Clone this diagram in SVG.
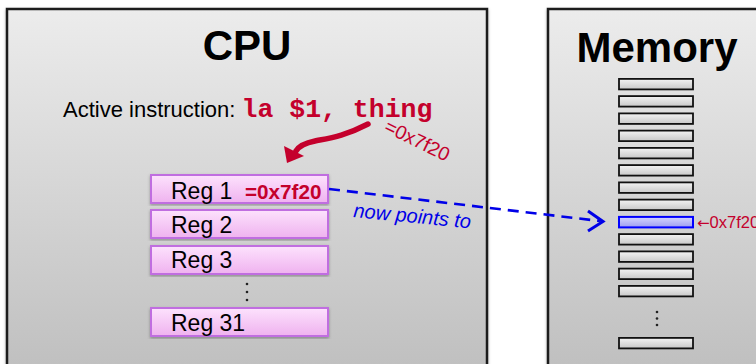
<svg xmlns="http://www.w3.org/2000/svg" width="756" height="364" viewBox="0 0 756 364">
<defs>
<linearGradient id="boxg" x1="0" y1="0" x2="0" y2="1">
<stop offset="0" stop-color="#ececec"/><stop offset="1" stop-color="#bdbdbd"/>
</linearGradient>
<linearGradient id="regg" x1="0" y1="0" x2="0" y2="1">
<stop offset="0" stop-color="#fde2fd"/><stop offset="1" stop-color="#efb2ef"/>
</linearGradient>
<linearGradient id="cellg" x1="0" y1="0" x2="0" y2="1">
<stop offset="0" stop-color="#f4f4f4"/><stop offset="1" stop-color="#c8c8c8"/>
</linearGradient>
<linearGradient id="hig" x1="0" y1="0" x2="0" y2="1">
<stop offset="0" stop-color="#d6d6ff"/><stop offset="1" stop-color="#9c9cf0"/>
</linearGradient>
<filter id="sh" x="-10%" y="-10%" width="120%" height="120%">
<feDropShadow dx="0" dy="1.5" stdDeviation="1.5" flood-color="#000" flood-opacity="0.3"/>
</filter>
</defs>
<style>
.box{fill:url(#boxg);stroke:#1a1a1a;stroke-width:2.5;filter:url(#sh)}
.title{font-family:"Liberation Sans",Arial,sans-serif;font-weight:bold;font-size:42px;fill:#000;text-anchor:middle}
.reg{fill:url(#regg);stroke:#c06ee0;stroke-width:2;filter:url(#sh)}
.regt{font-family:"Liberation Sans",Arial,sans-serif;font-size:23px;fill:#000}
.cell{fill:url(#cellg);stroke:#111;stroke-width:1.8}
.hi{fill:url(#hig);stroke:#0000ff;stroke-width:2}
.red{fill:#c4002c}
.dot{fill:#222}
</style>
<rect width="756" height="364" fill="#fff"/>

<g id="cpu">
<rect class="box" x="7" y="9" width="480" height="380"/>
<text class="title" x="247" y="60">CPU</text>
<text x="63" y="117" font-family="Liberation Sans,Arial,sans-serif" font-size="22" fill="#000">Active instruction: <tspan font-family="Liberation Mono,Courier New,monospace" font-weight="bold" font-size="26.5" fill="#c4002c">la $1, thing</tspan></text>
</g>

<g id="memory">
<rect class="box" x="548" y="9" width="230" height="380"/>
<text class="title" x="657" y="62">Memory</text>
</g>

<g id="reg1">
<rect class="reg" x="151" y="175" width="177" height="28"/>
<text class="regt" x="171" y="199">Reg 1</text>
<text x="245" y="199" font-family="Liberation Sans,Arial,sans-serif" font-weight="bold" font-size="20.7" class="red">=0x7f20</text>
</g>
<g id="reg2">
<rect class="reg" x="151" y="210" width="177" height="28"/>
<text class="regt" x="171" y="233">Reg 2</text>
</g>
<g id="reg3">
<rect class="reg" x="151" y="246" width="177" height="28"/>
<text class="regt" x="171" y="268">Reg 3</text>
</g>
<g id="regdots">
<circle class="dot" cx="247" cy="284" r="1.3"/><circle class="dot" cx="247" cy="292" r="1.3"/><circle class="dot" cx="247" cy="300" r="1.3"/>
</g>
<g id="reg31">
<rect class="reg" x="151" y="308" width="177" height="28"/>
<text class="regt" x="171" y="331">Reg 31</text>
</g>

<g id="cells">
<rect class="cell" x="619" y="78.9" width="74" height="10.5"/>
<rect class="cell" x="619" y="96.1" width="74" height="10.5"/>
<rect class="cell" x="619" y="113.4" width="74" height="10.5"/>
<rect class="cell" x="619" y="130.6" width="74" height="10.5"/>
<rect class="cell" x="619" y="147.9" width="74" height="10.5"/>
<rect class="cell" x="619" y="165.1" width="74" height="10.5"/>
<rect class="cell" x="619" y="182.4" width="74" height="10.5"/>
<rect class="cell" x="619" y="199.6" width="74" height="10.5"/>
<rect class="cell" x="619" y="234.1" width="74" height="10.5"/>
<rect class="cell" x="619" y="251.4" width="74" height="10.5"/>
<rect class="cell" x="619" y="268.6" width="74" height="10.5"/>
<rect class="cell" x="619" y="285.9" width="74" height="10.5"/>
<circle class="dot" cx="657" cy="312" r="1.3"/><circle class="dot" cx="657" cy="318.5" r="1.3"/><circle class="dot" cx="657" cy="325" r="1.3"/>
<rect class="cell" x="619" y="337.9" width="74" height="10.5"/>
</g>
<g id="cell-0x7f20">
<rect class="hi" x="619" y="216.9" width="74" height="10.5"/>
<text x="697" y="227.5" font-family="Liberation Sans,Arial,sans-serif" font-size="16.5" class="red"><tspan font-family="DejaVu Sans,sans-serif" font-size="15">←</tspan>0x7f20</text>
</g>

<g id="connectors">
<path d="M368,124 C345,136 330,138 315,141 C305,143 299,146 296,151" fill="none" stroke="#c4002c" stroke-width="5.5" stroke-linecap="round"/>
<polygon points="287,163 284,146 304,156" fill="#c4002c"/>
<text x="383" y="131" transform="rotate(26 383 131)" font-family="Liberation Sans,Arial,sans-serif" font-size="19.5" class="red">=0x7f20</text>
<path d="M329,189 L600,221" fill="none" stroke="#0000e8" stroke-width="2.6" stroke-dasharray="11,7"/>
<polyline points="588,211 603,221.5 588,231" fill="none" stroke="#0000e8" stroke-width="3" stroke-linejoin="miter"/>
<text x="353" y="217" transform="rotate(5.5 353 217)" font-family="Liberation Sans,Arial,sans-serif" font-size="20" font-style="italic" fill="#0000e8">now points to</text>
</g>
</svg>
